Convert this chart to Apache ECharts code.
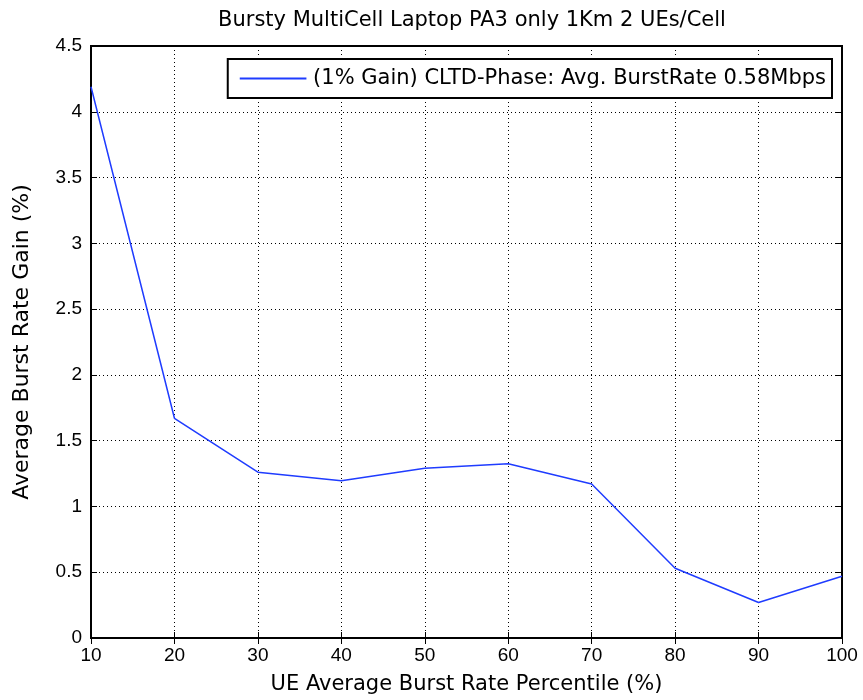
<!DOCTYPE html>
<html><head><meta charset="utf-8">
<script src="https://cdn.jsdelivr.net/npm/echarts@6/dist/echarts.min.js"></script>
<style>html,body{margin:0;padding:0;background:#fff}#c{width:863px;height:700px}</style>
</head><body><div id="c"></div>
<script>
const categories = [10, 20, 30, 40, 50, 60, 70, 80, 90, 100];
const gainValues = [4.19, 1.67, 1.26, 1.195, 1.29, 1.325, 1.17, 0.53, 0.27, 0.47];
const seriesName = '(1% Gain) CLTD-Phase: Avg. BurstRate 0.58Mbps';
const titleText = 'Bursty MultiCell Laptop PA3 only 1Km 2 UEs/Cell';
const xName = 'UE Average Burst Rate Percentile (%)';
const yName = 'Average Burst Rate Gain (%)';

const font = 'DejaVu Sans, sans-serif';
const tickFont = 'Liberation Sans, Arial, sans-serif';
const chart = echarts.init(document.getElementById('c'));
const gridLine = {show: true, lineStyle: {color: '#000', type: [1, 3], width: 1}};
chart.setOption({
  animation: false,
  backgroundColor: '#fff',
  title: {text: titleText, left: 467, top: 5, textAlign: 'center',
    textStyle: {fontFamily: font, fontSize: 21, fontWeight: 'normal', color: '#000'}},
  grid: {left: 91, right: 21, top: 46, bottom: 61, show: true, borderColor: '#000', borderWidth: 2, backgroundColor: '#fff'},
  legend: {
    data: [{name: seriesName, icon: 'path://M0,0 L100,0 L100,3 L0,3 Z'}], right: 31, top: 59, orient: 'horizontal',
    backgroundColor: '#fff', borderColor: '#000', borderWidth: 2, borderRadius: 0,
    padding: [9, 6, 9, 12], itemWidth: 70, itemHeight: 2, itemGap: 6,
    textStyle: {fontFamily: font, fontSize: 21, color: '#000'}
  },
  xAxis: [{
    type: 'value', min: 10, max: 100, interval: 10,
    name: xName, nameLocation: 'middle', nameGap: 36,
    nameTextStyle: {fontFamily: font, fontSize: 21, color: '#000'},
    axisLine: {show: true, onZero: false, lineStyle: {color: '#000', width: 2}},
    axisTick: {show: true, inside: true, length: 6, lineStyle: {color: '#000', width: 1}},
    axisLabel: {fontFamily: tickFont, fontSize: 19, color: '#000', margin: 8},
    splitLine: gridLine
  }, {
    type: 'value', position: 'top', min: 10, max: 100, interval: 10,
    axisLine: {show: true, lineStyle: {color: '#000', width: 2}},
    axisTick: {show: true, inside: true, length: 6, lineStyle: {color: '#000', width: 1}},
    axisLabel: {show: false}, splitLine: {show: false}
  }],
  yAxis: [{
    type: 'value', min: 0, max: 4.5, interval: 0.5,
    name: yName, nameLocation: 'middle', nameGap: 58, nameRotate: 90,
    nameTextStyle: {fontFamily: font, fontSize: 22, color: '#000'},
    axisLine: {show: true, onZero: false, lineStyle: {color: '#000', width: 2}},
    axisTick: {show: true, inside: true, length: 6, lineStyle: {color: '#000', width: 1}},
    axisLabel: {fontFamily: tickFont, fontSize: 19, color: '#000', margin: 9},
    splitLine: gridLine
  }, {
    type: 'value', position: 'right', min: 0, max: 4.5, interval: 0.5,
    axisLine: {show: true, lineStyle: {color: '#000', width: 2}},
    axisTick: {show: true, inside: true, length: 6, lineStyle: {color: '#000', width: 1}},
    axisLabel: {show: false}, splitLine: {show: false}
  }],
  series: [{
    name: seriesName, type: 'line', symbol: 'none',
    data: categories.map((c, i) => [c, gainValues[i]]),
    lineStyle: {color: '#1f3cff', width: 1.5}, itemStyle: {color: '#1f3cff'}
  }]
});
</script></body></html>
